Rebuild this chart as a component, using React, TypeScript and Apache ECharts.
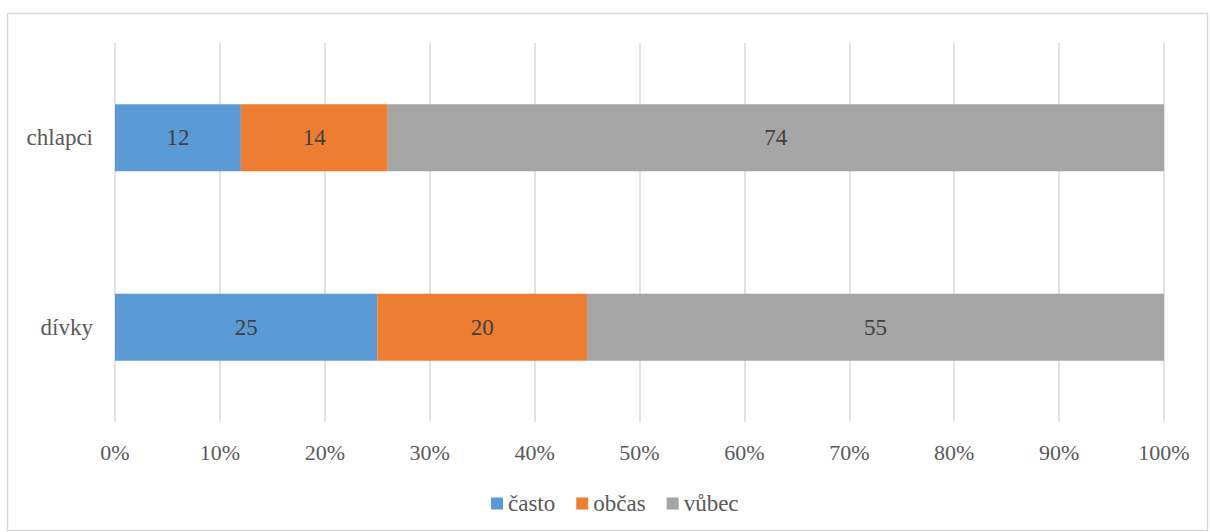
import React, { useEffect, useRef } from "react";
import * as echarts from "echarts";

const categories = ["dívky", "chlapci"];
const seriesNames = ["často", "občas", "vůbec"];
const casto = [25, 12];
const obcas = [20, 14];
const vubec = [55, 74];
const xTicks = [0, 10, 20, 30, 40, 50, 60, 70, 80, 90, 100];
const colors = ["#5B9BD5", "#ED7D31", "#A5A5A5"];

const FONT = "Liberation Serif";

export default function App() {
  const ref = useRef<HTMLDivElement>(null);
  useEffect(() => {
    if (!ref.current) return;
    const chart = echarts.init(ref.current, undefined, { renderer: "svg" });
    const values = [casto, obcas, vubec];
    chart.setOption({
      animation: false,
      backgroundColor: "#ffffff",
      textStyle: { fontFamily: FONT },
      graphic: [
        {
          type: "rect",
          shape: { x: 7.5, y: 13.5, width: 1200, height: 517 },
          style: { fill: "none", stroke: "#D9D9D9", lineWidth: 1.5 },
          silent: true,
        },
      ],
      grid: { left: 115, right: 46, top: 43, bottom: 110 },
      legend: {
        data: seriesNames,
        top: 487,
        left: 486,
        itemWidth: 12,
        itemHeight: 12,
        itemGap: 21,
        icon: "rect",
        textStyle: { fontFamily: FONT, fontSize: 23, color: "#595959", padding: [0, 0, 0, 0] },
      },
      xAxis: {
        type: "value",
        min: 0,
        max: 100,
        interval: 10,
        axisLine: { show: false },
        axisTick: { show: false },
        splitLine: { show: true, lineStyle: { color: "#D9D9D9", width: 1.5 } },
        axisLabel: {
          fontFamily: FONT,
          fontSize: 22,
          color: "#595959",
          margin: 19,
          formatter: (v: number) => (xTicks.includes(v) ? v + "%" : ""),
        },
      },
      yAxis: {
        type: "category",
        data: categories,
        axisLine: { show: false },
        axisTick: { show: false },
        axisLabel: { fontFamily: FONT, fontSize: 23, color: "#595959", margin: 22 },
      },
      series: seriesNames.map((name, i) => ({
        name,
        type: "bar",
        stack: "total",
        barWidth: 67,
        data: values[i],
        itemStyle: { color: colors[i] },
        label: {
          show: true,
          position: "inside",
          fontFamily: FONT,
          fontSize: 23,
          color: "#404040",
        },
      })),
    });
    return () => chart.dispose();
  }, []);
  return (
    <div
      ref={ref}
      style={{ position: "fixed", left: 0, top: 0, width: 1210, height: 532 }}
    />
  );
}
